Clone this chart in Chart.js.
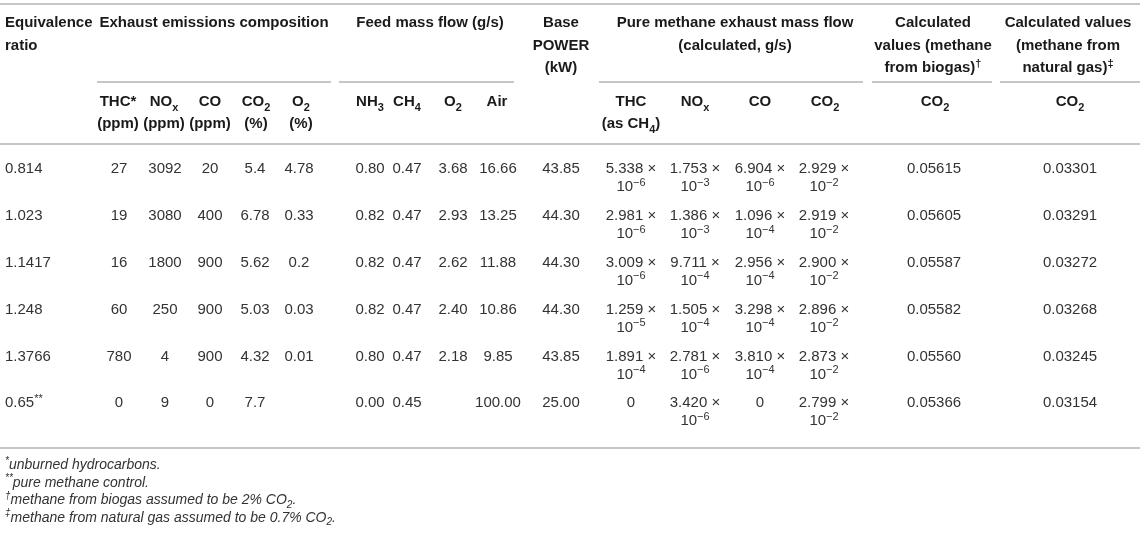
<!DOCTYPE html>
<html>
<head>
<meta charset="utf-8">
<script src="https://cdn.jsdelivr.net/npm/chart.js@4.4.1/dist/chart.umd.min.js"></script>
<style>
  html, body { margin: 0; padding: 0; background: #fff; }
  #wrap { width: 1143px; height: 535px; position: relative; }
</style>
</head>
<body>
<div id="wrap"><canvas id="tbl"></canvas></div>
<script>
// --- table values ---
const ratios    = ['0.814', '1.023', '1.1417', '1.248', '1.3766', '0.65**'];
const thcPpm    = ['27', '19', '16', '60', '780', '0'];
const noxPpm    = ['3092', '3080', '1800', '250', '4', '9'];
const coPpm     = ['20', '400', '900', '900', '900', '0'];
const co2Pct    = ['5.4', '6.78', '5.62', '5.03', '4.32', '7.7'];
const o2Pct     = ['4.78', '0.33', '0.2', '0.03', '0.01', ''];
const nh3Flow   = ['0.80', '0.82', '0.82', '0.82', '0.80', '0.00'];
const ch4Flow   = ['0.47', '0.47', '0.47', '0.47', '0.47', '0.45'];
const o2Flow    = ['3.68', '2.93', '2.62', '2.40', '2.18', ''];
const airFlow   = ['16.66', '13.25', '11.88', '10.86', '9.85', '100.00'];
const basePower = ['43.85', '44.30', '44.30', '44.30', '43.85', '25.00'];
const thcCalc   = ['5.338e-6', '2.981e-6', '3.009e-6', '1.259e-5', '1.891e-4', '0'];
const noxCalc   = ['1.753e-3', '1.386e-3', '9.711e-4', '1.505e-4', '2.781e-6', '3.420e-6'];
const coCalc    = ['6.904e-6', '1.096e-4', '2.956e-4', '3.298e-4', '3.810e-4', '0'];
const co2Calc   = ['2.929e-2', '2.919e-2', '2.900e-2', '2.896e-2', '2.873e-2', '2.799e-2'];
const co2Biogas = ['0.05615', '0.05605', '0.05587', '0.05582', '0.05560', '0.05366'];
const co2NatGas = ['0.03301', '0.03291', '0.03272', '0.03268', '0.03245', '0.03154'];

// column centres in x-scale units
const dataCols = [
  [thcPpm, 119], [noxPpm, 165], [coPpm, 210], [co2Pct, 255], [o2Pct, 299],
  [nh3Flow, 370], [ch4Flow, 407], [o2Flow, 453], [airFlow, 498], [basePower, 561],
  [thcCalc, 631], [noxCalc, 695], [coCalc, 760], [co2Calc, 824],
  [co2Biogas, 934], [co2NatGas, 1070]
];

// header cells: [lines, x, align]
const topHeads = [
  [['Equivalence', 'ratio'], 5, 'left'],
  [['Exhaust emissions composition'], 214, 'center'],
  [['Feed mass flow (g/s)'], 430, 'center'],
  [['Base', 'POWER', '(kW)'], 561, 'center'],
  [['Pure methane exhaust mass flow', '(calculated, g/s)'], 735, 'center'],
  [['Calculated', 'values (methane', 'from biogas)^{†}'], 933, 'center'],
  [['Calculated values', '(methane from', 'natural gas)^{‡}'], 1068, 'center']
];
const subHeads = [
  [['THC*', '(ppm)'], 118], [['NO_{x}', '(ppm)'], 164], [['CO', '(ppm)'], 210],
  [['CO_{2}', '(%)'], 256], [['O_{2}', '(%)'], 301],
  [['NH_{3}'], 370], [['CH_{4}'], 407], [['O_{2}'], 453], [['Air'], 497],
  [['THC', '(as CH_{4})'], 631], [['NO_{x}'], 695], [['CO'], 760], [['CO_{2}'], 825],
  [['CO_{2}'], 935], [['CO_{2}'], 1070]
];
// span underlines under the grouped headers
const spans = [[97, 331], [339, 514], [599, 863], [872, 992], [1000, 1140]];
const notes = [
  '^{*}unburned hydrocarbons.',
  '^{**}pure methane control.',
  '^{†}methane from biogas assumed to be 2% CO_{2}.',
  '^{‡}methane from natural gas assumed to be 0.7% CO_{2}.'
];

const FONT = '"Liberation Sans", Arial, Helvetica, sans-serif';

// split "CO_{2}" / "x^{†}" into runs
function parseRich(s) {
  const parts = [];
  const re = /([_^])\{([^}]*)\}/g;
  let last = 0, m;
  while ((m = re.exec(s))) {
    if (m.index > last) parts.push([s.slice(last, m.index), '']);
    parts.push([m[2], m[1] === '_' ? 'sub' : 'sup']);
    last = re.lastIndex;
  }
  if (last < s.length) parts.push([s.slice(last), '']);
  return parts;
}

function drawRich(ctx, str, x, y, align, style) {
  const parts = parseRich(str);
  const size = style.size;
  const small = Math.round(size * 0.72);
  const fontFor = k => `${style.italic ? 'italic ' : ''}${style.bold ? 'bold ' : ''}${k ? small : size}px ${FONT}`;
  let w = 0;
  parts.forEach(p => { ctx.font = fontFor(p[1]); p.w = ctx.measureText(p[0]).width; w += p.w; });
  let cx = align === 'center' ? x - w / 2 : (align === 'right' ? x - w : x);
  const base = y + size * 0.36;
  ctx.textAlign = 'left';
  ctx.textBaseline = 'alphabetic';
  ctx.fillStyle = style.color;
  parts.forEach(p => {
    ctx.font = fontFor(p[1]);
    const dy = p[1] === 'sub' ? size * 0.28 : (p[1] === 'sup' ? -size * 0.38 : 0);
    ctx.fillText(p[0], cx, base + dy);
    cx += p.w;
  });
}

const tablePlugin = {
  id: 'tablePlugin',
  afterDraw(chart) {
    const ctx = chart.ctx;
    const xs = chart.scales.x, ys = chart.scales.y;
    const X = v => xs.getPixelForValue(v);
    const head = { size: 15, bold: true, color: '#1a1a1a' };
    const body = { size: 15, color: '#333' };
    ctx.save();

    // rules
    ctx.strokeStyle = '#b3b3b3';
    ctx.lineWidth = 1.5;
    const hline = (a, b, y) => { ctx.beginPath(); ctx.moveTo(X(a), y); ctx.lineTo(X(b), y); ctx.stroke(); };
    hline(0, 1140, 4);
    spans.forEach(s => hline(s[0], s[1], 82));
    hline(0, 1140, 144);
    hline(0, 1140, 448);

    // header
    topHeads.forEach(h => h[0].forEach((t, i) => drawRich(ctx, t, X(h[1]), 22 + i * 22.5, h[2], head)));
    subHeads.forEach(h => h[0].forEach((t, i) => drawRich(ctx, t, X(h[1]), 101 + i * 22, 'center', head)));

    // body rows: y from the category scale
    ratios.forEach((r, ri) => {
      const y = ys.getPixelForValue(ri);
      const m = r.match(/^([^*]*)(\**)$/);
      drawRich(ctx, m[1] + (m[2] ? '^{' + m[2] + '}' : ''), X(5), y, 'left', body);
      dataCols.forEach(([vals, cx]) => {
        const v = vals[ri];
        if (!v) return;
        const e = v.match(/^([\d.]+)e(-?\d+)$/);
        if (e) {
          drawRich(ctx, e[1] + ' \u00d7', X(cx), y, 'center', body);
          drawRich(ctx, '10^{' + e[2].replace('-', '\u2212') + '}', X(cx), y + 18, 'center', body);
        } else {
          drawRich(ctx, v, X(cx), y, 'center', body);
        }
      });
    });

    // footnotes
    notes.forEach((n, i) => drawRich(ctx, n, X(5), 464 + i * 17.5, 'left', { size: 14, italic: true, color: '#333' }));
    ctx.restore();
  }
};

new Chart(document.getElementById('tbl'), {
  type: 'scatter',
  data: { datasets: [] },
  options: {
    responsive: true,
    maintainAspectRatio: false,
    animation: false,
    events: [],
    layout: { padding: { top: 168, bottom: 133, left: 0, right: 0 } },
    plugins: { legend: { display: false }, tooltip: { enabled: false } },
    scales: {
      x: { type: 'linear', min: 0, max: 1143, display: false },
      y: { type: 'category', labels: ratios, offset: false, display: false }
    }
  },
  plugins: [tablePlugin]
});
</script>
</body>
</html>
